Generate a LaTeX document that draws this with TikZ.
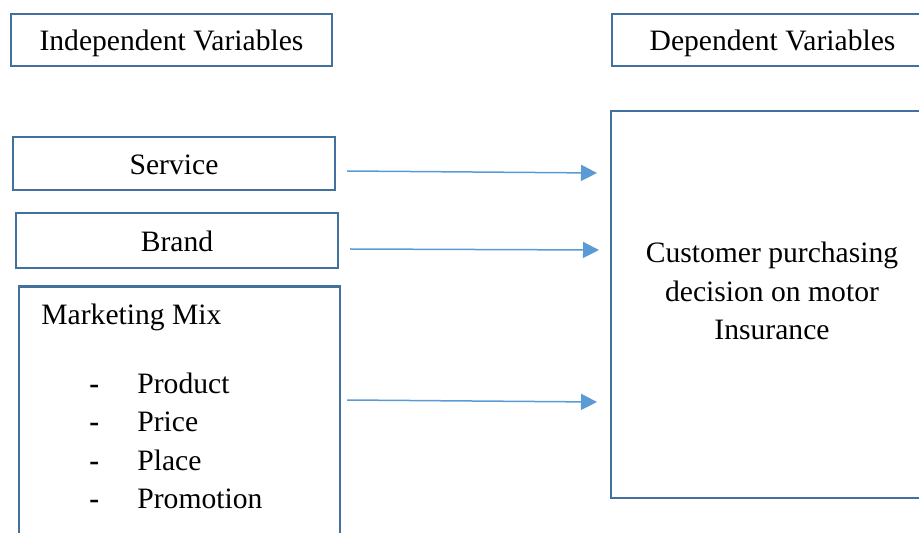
\documentclass[tikz,border=0pt]{standalone}
\usepackage{fontspec}
\setmainfont{Liberation Serif}
\usetikzlibrary{arrows.meta}

\definecolor{boxblue}{HTML}{41719C}
\definecolor{arrowblue}{HTML}{5B9BD5}

\tikzset{
    varbox/.style={draw=boxblue, line width=1.25pt, inner sep=0pt, outer sep=0pt,
        text height=12pt, text depth=1pt},
    listtext/.style={anchor=base west, inner sep=0pt},
    link/.style={draw=arrowblue, line width=0.75pt, -{Triangle[length=8pt,width=8pt]}},
}

\begin{document}
\begin{tikzpicture}[x=0.5pt, y=-0.5pt, font=\fontsize{14.8}{19.25}\selectfont]
    % Keep the page to the size of the reference
    \clip (0,0) rectangle (919,533);

    % Headings
    \node[varbox, minimum width=160.5pt, minimum height=26pt] (indep) at (171.5,40) {Independent Variables};
    \node[varbox, minimum width=160.5pt, minimum height=26pt] (dep) at (772.5,40) {Dependent Variables};

    % Independent variables
    \node[varbox, minimum width=161pt, minimum height=26.5pt] (service) at (174,163.5) {Service};
    \node[varbox, minimum width=161pt, minimum height=27.5pt] (brand) at (177,240.5) {Brand};
    \node[varbox, minimum width=160.5pt, minimum height=137pt] (mix) at (179.5,423.5) {};
    \node[listtext] (mixtitle) at (41,325) {Marketing Mix};
    \foreach \item [count=\i] in {Product,Price,Place,Promotion} {
        \node[listtext] (dash\i) at (89,393.3+38.4*\i-38.4) {\textbf{-}};
        \node[listtext] (item\i) at (137,393.3+38.4*\i-38.4) {\item};
    }

    % Dependent variable
    \node[varbox, minimum width=160.5pt, minimum height=193.5pt] (decision) at (771.5,304.5) {};
    \node[align=center] (dectext) at (772,291) {Customer purchasing\\decision on motor\\Insurance};

    % Arrows
    \coordinate (s1) at (347,171);
    \coordinate (e1) at (597,173);
    \coordinate (s2) at (350,249);
    \coordinate (e2) at (599,250);
    \coordinate (s3) at (347,400);
    \coordinate (e3) at (597,402);
    \draw[link] (s1) -- (e1);
    \draw[link] (s2) -- (e2);
    \draw[link] (s3) -- (e3);
\end{tikzpicture}
\end{document}
